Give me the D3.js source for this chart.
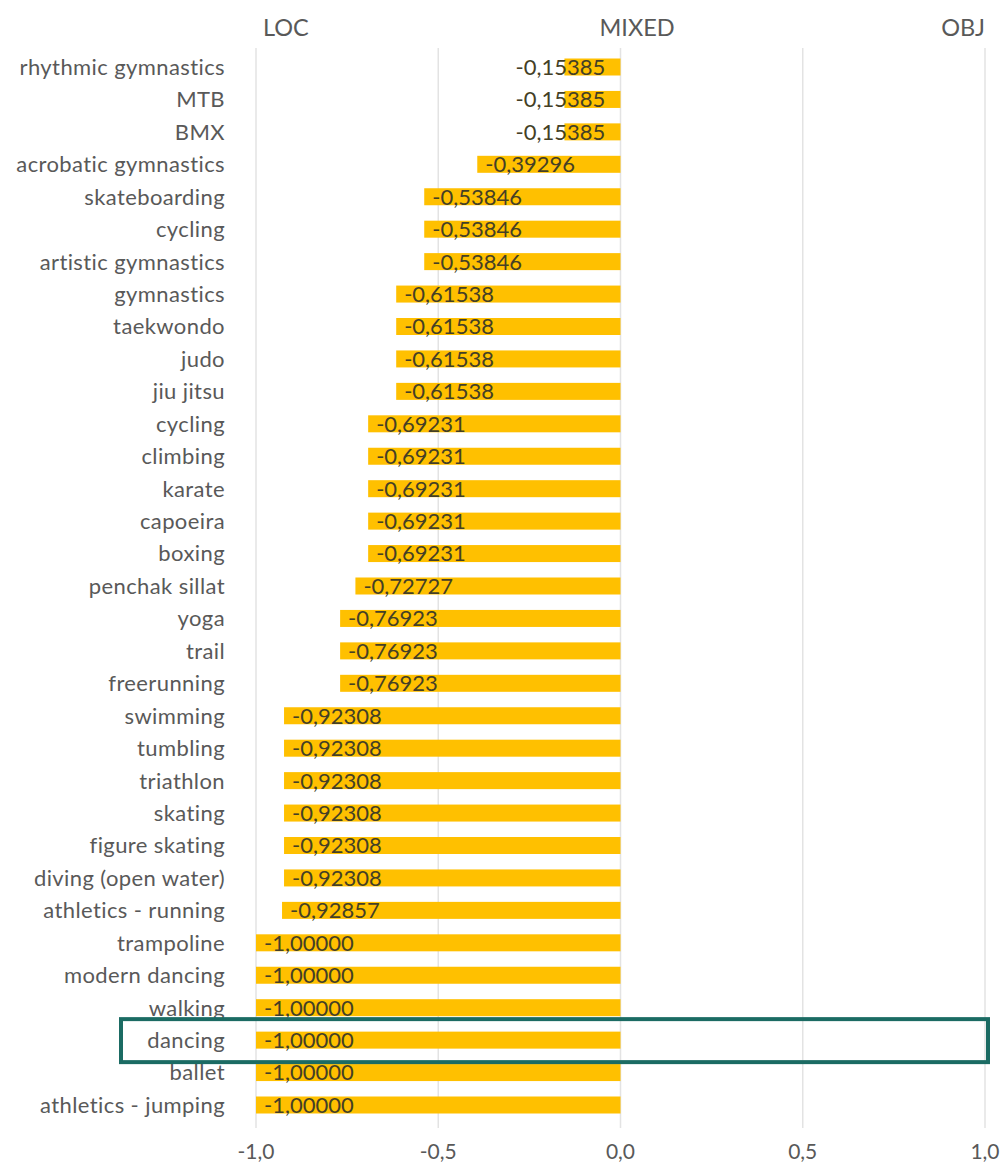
<html>
<head>
<meta charset="utf-8">
<script src="https://d3js.org/d3.v7.min.js"></script>
<style>
  body { margin: 0; background: white; }
  text { font-family: Lato, "Open Sans", sans-serif; }
  .cat { fill: #595959; font-size: 22px; letter-spacing: 0.4px; }
  .val { fill: #443f26; font-size: 22px; }
  .tick { fill: #595959; font-size: 21px; }
  .head { fill: #595959; font-size: 23.5px; }
  .grid { stroke: #e3e3e3; stroke-width: 1.5px; }
</style>
</head>
<body>
<svg id="chart" width="1005" height="1168"></svg>
<script>
  // categories top -> bottom
  const sports = ["rhythmic gymnastics", "MTB", "BMX", "acrobatic gymnastics", "skateboarding",
    "cycling", "artistic gymnastics", "gymnastics", "taekwondo", "judo", "jiu jitsu", "cycling",
    "climbing", "karate", "capoeira", "boxing", "penchak sillat", "yoga", "trail", "freerunning",
    "swimming", "tumbling", "triathlon", "skating", "figure skating", "diving (open water)",
    "athletics - running", "trampoline", "modern dancing", "walking", "dancing", "ballet",
    "athletics - jumping"];
  const scores = [-0.15385, -0.15385, -0.15385, -0.39296, -0.53846, -0.53846, -0.53846,
    -0.61538, -0.61538, -0.61538, -0.61538, -0.69231, -0.69231, -0.69231, -0.69231, -0.69231,
    -0.72727, -0.76923, -0.76923, -0.76923, -0.92308, -0.92308, -0.92308, -0.92308, -0.92308,
    -0.92308, -0.92857, -1, -1, -1, -1, -1, -1];
  const ticks = [-1, -0.5, 0, 0.5, 1];
  const headerLabels = ["LOC", "MIXED", "OBJ"];
  const headerAt = [-1, 0, 1];
  const highlight = "dancing";

  const svg = d3.select("#chart");
  const comma = d => d.toFixed(1).replace(".", ",");
  const comma5 = d => d.toFixed(5).replace(".", ",");

  const x = d3.scaleLinear().domain([-1, 1]).range([256, 985]);
  const y = d3.scalePoint().domain(d3.range(sports.length)).range([67, 1105]);
  const barH = 17;

  // gridlines
  svg.append("g").selectAll("line").data(ticks).join("line")
    .attr("class", "grid")
    .attr("x1", d => x(d)).attr("x2", d => x(d))
    .attr("y1", 48).attr("y2", 1128);

  // bars
  svg.append("g").selectAll("rect").data(scores).join("rect")
    .attr("x", d => x(d))
    .attr("y", (d, i) => y(i) - barH / 2)
    .attr("width", d => x(0) - x(d))
    .attr("height", barH)
    .attr("fill", "#ffc000");

  // value labels, inside end unless the bar is too short
  svg.append("g").selectAll("text").data(scores).join("text")
    .attr("class", "val")
    .attr("y", (d, i) => y(i))
    .attr("dy", "0.36em")
    .text(d => comma5(d))
    .each(function(d) {
      const w = this.getComputedTextLength();
      const bw = x(0) - x(d);
      if (w + 12 < bw) d3.select(this).attr("x", x(d) + 8).attr("text-anchor", "start");
      else d3.select(this).attr("x", x(d) - 4).attr("text-anchor", "middle");
    });

  // category labels
  svg.append("g").selectAll("text").data(sports).join("text")
    .attr("class", "cat")
    .attr("x", 225)
    .attr("y", (d, i) => y(i))
    .attr("dy", "0.36em")
    .attr("text-anchor", "end")
    .text(d => d);

  // x axis labels
  svg.append("g").selectAll("text").data(ticks).join("text")
    .attr("class", "tick")
    .attr("x", d => x(d))
    .attr("y", 1151)
    .attr("dy", "0.36em")
    .attr("text-anchor", "middle")
    .text(d => comma(d));

  // headers above the plot
  const headDx = [7, -21, 0];
  const headAnchor = ["start", "start", "end"];
  svg.append("g").selectAll("text").data(headerLabels).join("text")
    .attr("class", "head")
    .attr("x", (d, i) => x(headerAt[i]) + headDx[i])
    .attr("y", 28)
    .attr("dy", "0.36em")
    .attr("text-anchor", (d, i) => headAnchor[i])
    .text(d => d);

  // highlight box around dancing
  const hi = sports.indexOf(highlight);
  svg.append("rect")
    .attr("x", 121).attr("y", y(hi) - 21)
    .attr("width", x(1) + 3 - 121).attr("height", 43)
    .attr("fill", "none")
    .attr("stroke", "#1b6b63")
    .attr("stroke-width", 4);
</script>
</body>
</html>
